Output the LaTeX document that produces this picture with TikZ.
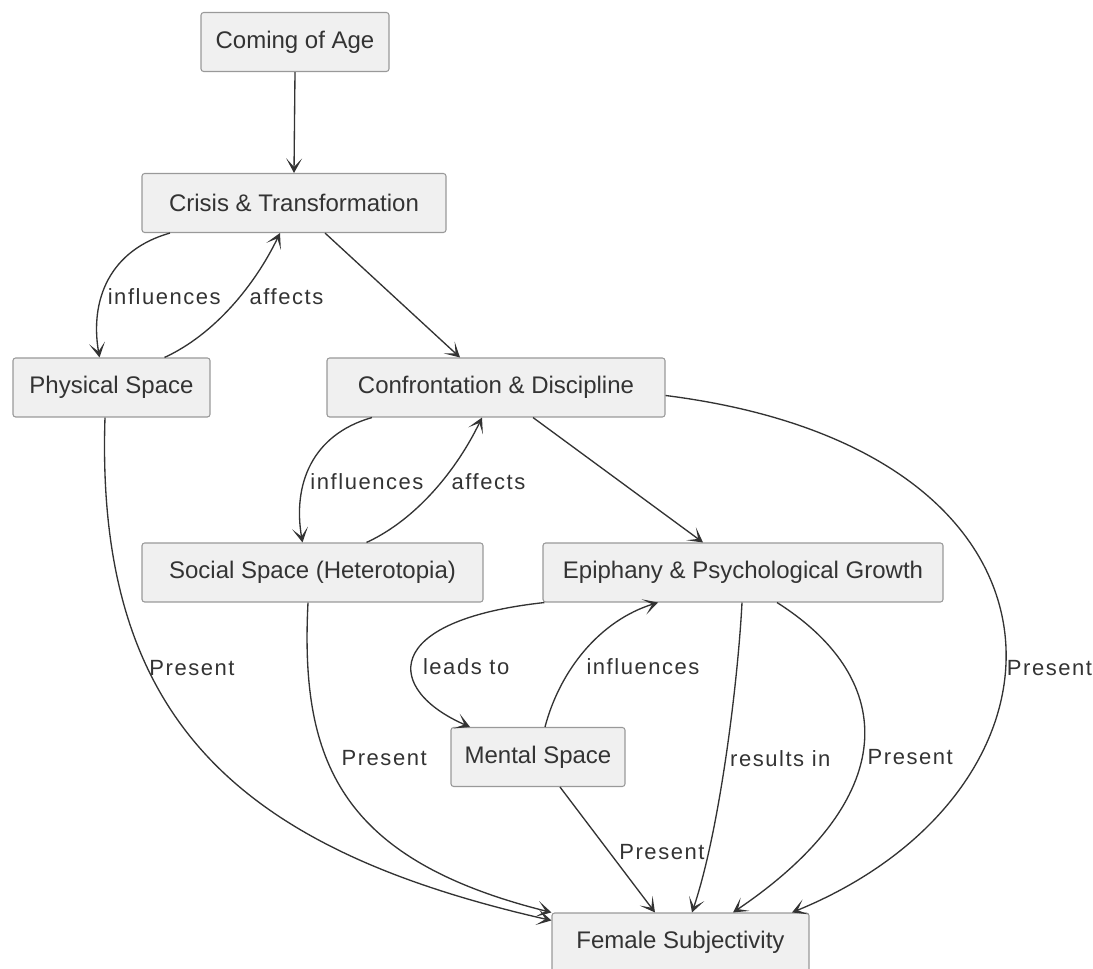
\documentclass[tikz,border=0pt]{standalone}
\usepackage{fontspec}
\setmainfont{Liberation Sans}
\newfontfamily\lblfont[LetterSpace=7]{Liberation Sans}
\usetikzlibrary{arrows.meta,calc}
\definecolor{ink}{HTML}{333333}
\definecolor{boxfill}{HTML}{F0F0F0}
\definecolor{boxline}{HTML}{999999}
\tikzstyle{box} = [draw=boxline, fill=boxfill, rounded corners=2pt, line width=0.8pt, text=ink, font=\fontsize{18pt}{21pt}\selectfont, minimum height=44.25pt, inner sep=0pt]
\tikzstyle{lbl} = [anchor=west, inner sep=1pt, text=ink, font=\lblfont\fontsize{16.5pt}{20pt}\selectfont]
\tikzstyle{link} = [->, draw=ink, line width=1pt]

\begin{document}
\begin{tikzpicture}[x=0.75pt, y=-0.75pt, >={Stealth[length=11pt,width=12pt,inset=6.5pt]}]
	\useasboundingbox (0,0) rectangle (1093,969);
	\node[box, minimum width=141pt] (coming) at (295,42) {Coming of Age};
	\node[box, minimum width=228pt] (crisis) at (294,203) {Crisis \& Transformation};
	\node[box, minimum width=147.75pt] (physical) at (111.5,387.5) {Physical Space};
	\node[box, minimum width=253.5pt] (confront) at (496,387.5) {Confrontation \& Discipline};
	\node[box, minimum width=255.75pt] (social) at (312.5,572.5) {Social Space (Heterotopia)};
	\node[box, minimum width=300pt] (epiphany) at (743,572.5) {Epiphany \& Psychological Growth};
	\node[box, minimum width=130.5pt] (mental) at (538,757) {Mental Space};
	\node[box, minimum width=192.75pt] (female) at (680.5,942.5) {Female Subjectivity};

	\draw[link] (coming.south) -- (crisis.north);
	\draw[link] ($(crisis.south)+(-124,0)$) .. controls +(-60,17) and +(-10,-58) .. node[lbl, pos=0.62, xshift=3pt] {influences} ($(physical.north)+(-12,0)$);
	\draw[link] ($(physical.north)+(53,0)$) .. controls +(50,-23) and +(-25,52) .. node[lbl, pos=0.57, xshift=6pt] {affects} ($(crisis.south)+(-14,0)$);
	\draw[link] ($(crisis.south)+(31,0)$) -- ($(confront.north)+(-36,0)$);

	\draw[link] ($(confront.south)+(-124,0)$) .. controls +(-60,17) and +(-10,-58) .. node[lbl, pos=0.62, xshift=3pt] {influences} ($(social.north)+(-10,0)$);
	\draw[link] ($(social.north)+(54,0)$) .. controls +(50,-23) and +(-25,52) .. node[lbl, pos=0.57, xshift=6pt] {affects} ($(confront.south)+(-14,0)$);
	\draw[link] ($(confront.south)+(37,0)$) -- ($(epiphany.north)+(-40,0)$);

	\draw[link] ($(epiphany.south west)+(2,0)$) .. controls +(-165,18) and +(-85,-37) .. node[lbl, pos=0.56, xshift=7pt] {leads to} ($(mental.north)+(-68,0)$);
	\draw[link] ($(mental.north)+(7,0)$) .. controls +(15,-57) and +(-58,18) .. node[lbl, pos=0.38, xshift=9pt] {influences} ($(epiphany.south)+(-85,0)$);

	\draw[link] ($(confront.east)+(0,8)$) .. controls +(435,55) and +(298,-122) .. node[lbl, pos=0.56] {Present} ($(female.north)+(111.5,0)$);
	\draw[link] ($(physical.south)+(-6.5,0)$) .. controls +(-10,303) and +(-312,-71) .. node[lbl, pos=0.335] {Present} ($(female.north west)+(0,8)$);
	\draw[link] ($(social.south)+(-4.5,0)$) .. controls +(-8,158) and +(-212,-53) .. node[lbl, pos=0.38, xshift=10pt] {Present} (female.north west);
	\draw[link] ($(epiphany.south)+(-1,0)$) .. controls +(-4,78) and +(28,-83) .. node[lbl, pos=0.51, xshift=2pt] {results in} ($(female.north)+(11.5,0)$);
	\draw[link] ($(epiphany.south)+(34,0)$) .. controls +(123,78) and +(167,-113) .. node[lbl, pos=0.54, xshift=3pt] {Present} ($(female.north)+(52.5,0)$);
	\draw[link] ($(mental.south)+(22,0)$) -- node[lbl, pos=0.52, xshift=6pt] {Present} ($(female.north)+(-25.5,0)$);
\end{tikzpicture}
\end{document}
